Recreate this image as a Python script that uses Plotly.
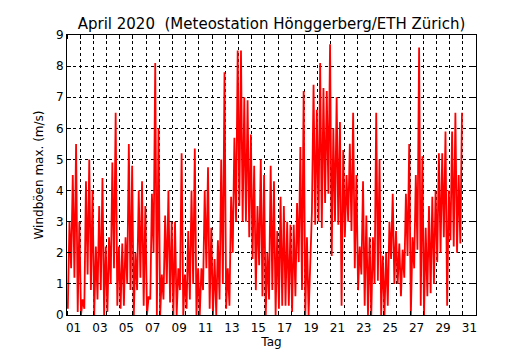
import plotly.graph_objects as go

# Day tick labels (placed at mid-day of odd days)
day_labels = ["01", "03", "05", "07", "09", "11", "13", "15", "17", "19",
              "21", "23", "25", "27", "29", "31"]
y_labels = [str(v) for v in range(10)]

# Estimated 6-hourly minimum / maximum of the max gust (m/s), 1-30 April 2020
# (four quarter-days per row)
gust_low = [
    0.2, 1.5, 1.2, 0.1,   # 01
    0.0, 0.2, 1.3, 0.8,   # 02
    0.0, 0.5, 0.8, 0.0,   # 03
    0.1, 1.0, 1.5, 0.3,   # 04
    0.2, 0.3, 1.0, 0.8,   # 05
    0.0, 0.8, 1.2, 0.3,   # 06
    0.0, 0.5, 2.0, 0.0,   # 07
    0.0, 0.5, 1.0, 0.4,   # 08
    0.0, 0.0, 0.8, 0.0,   # 09
    0.2, 0.5, 1.0, 0.0,   # 10
    0.0, 0.8, 1.5, 0.2,   # 11
    0.0, 0.0, 0.5, 1.0,   # 12
    0.2, 0.3, 2.0, 3.0,   # 13
    3.5, 3.0, 3.0, 2.5,   # 14
    1.8, 0.8, 1.6, 0.6,   # 15
    0.0, 0.5, 0.8, 0.0,   # 16
    0.2, 0.3, 0.3, 0.3,   # 17
    0.1, 0.6, 1.7, 0.8,   # 18
    0.0, 0.0, 3.3, 2.9,   # 19
    3.0, 2.8, 3.6, 3.9,   # 20
    1.9, 3.0, 2.9, 0.3,   # 21
    2.5, 3.0, 2.7, 1.5,   # 22
    0.8, 1.3, 0.3, 0.0,   # 23
    0.0, 1.0, 1.1, 0.0,   # 24
    0.0, 0.3, 1.8, 1.0,   # 25
    1.0, 0.6, 1.2, 1.9,   # 26
    0.0, 1.5, 2.1, 0.3,   # 27
    0.0, 0.6, 0.7, 1.0,   # 28
    1.7, 2.0, 2.5, 0.3,   # 29
    2.4, 2.2, 2.0, 2.3,   # 30
]
gust_high = [
    3.0, 4.5, 5.5, 3.0,   # 01
    0.5, 4.3, 5.0, 4.0,   # 02
    2.2, 3.5, 4.4, 2.2,   # 03
    2.5, 4.9, 6.5, 2.2,   # 04
    2.3, 2.5, 5.5, 4.8,   # 05
    2.0, 4.0, 4.3, 3.5,   # 06
    0.6, 3.9, 8.1, 6.0,   # 07
    1.3, 3.2, 4.0, 3.0,   # 08
    3.0, 1.5, 5.2, 1.3,   # 09
    2.7, 4.0, 5.35, 1.5,  # 10
    1.5, 4.0, 4.75, 2.8,  # 11
    1.8, 2.4, 5.0, 7.8,   # 12
    1.5, 3.8, 5.7, 8.5,   # 13
    8.5, 7.0, 6.9, 5.8,   # 14
    4.8, 3.5, 5.0, 4.5,   # 15
    2.0, 4.8, 4.3, 2.7,   # 16
    3.8, 3.5, 3.0, 2.9,   # 17
    2.9, 3.6, 5.4, 7.2,   # 18
    2.5, 1.7, 7.4, 6.6,   # 19
    8.1, 7.3, 7.2, 8.7,   # 20
    6.0, 7.0, 6.2, 5.3,   # 21
    4.5, 5.5, 6.5, 4.5,   # 22
    2.2, 4.3, 3.2, 2.5,   # 23
    2.5, 6.5, 5.0, 1.9,   # 24
    2.0, 3.0, 3.9, 2.7,   # 25
    2.3, 2.1, 3.9, 5.5,   # 26
    2.5, 4.5, 8.6, 5.1,   # 27
    2.8, 3.5, 3.8, 4.0,   # 28
    5.2, 5.2, 5.9, 4.0,   # 29
    5.9, 6.5, 4.5, 6.5,   # 30
]

# time axis in days since 1 April 00:00; two samples per quarter-day
t, v = [], []
for i, (lo, hi) in enumerate(zip(gust_low, gust_high)):
    start = i * 0.25
    t += [start + 0.0625, start + 0.1875]
    v += [lo, hi]

fig = go.Figure()
fig.add_trace(go.Scatter(x=t, y=v, mode="lines",
                         line=dict(color="#ff0000", width=1.8),
                         hoverinfo="skip", showlegend=False))

font = dict(family="DejaVu Sans, sans-serif", color="black")

# page body adds an 8px offset, so the figure is sized 522x342
fig.update_layout(
    width=522, height=342,
    margin=dict(l=59, r=54, t=27, b=35),
    paper_bgcolor="white", plot_bgcolor="white",
    font=dict(size=12, **font),
    title=dict(text="April 2020  (Meteostation Hönggerberg/ETH Zürich)",
               x=0.5, xref="paper", xanchor="center",
               y=1 - 16 / 342, yref="container", yanchor="middle",
               font=dict(size=15, **font), automargin=False),
    xaxis=dict(
        range=[0, 31], tickmode="array", automargin=False,
        tickvals=[0.5 + 2 * k for k in range(len(day_labels))],
        ticktext=day_labels, ticks="", showgrid=False, zeroline=False,
        showline=True, linecolor="black", linewidth=1, mirror="ticks",
        tickfont=dict(size=12), ticklabelstandoff=2,
        minor=dict(tickmode="array", tickvals=list(range(32)),
                   ticks="inside", ticklen=4, tickcolor="black",
                   showgrid=True, gridcolor="black", griddash="dot",
                   gridwidth=1),
        title=dict(text="Tag", font=dict(size=12), standoff=3),
    ),
    yaxis=dict(
        range=[0, 9], tickmode="array", tickvals=list(range(10)),
        ticktext=y_labels, ticks="inside", ticklen=4, tickcolor="black",
        showgrid=True, gridcolor="black", griddash="dot", gridwidth=1,
        zeroline=False, showline=True, linecolor="black", linewidth=1,
        mirror="ticks", tickfont=dict(size=12), automargin=False,
        title=dict(text="Windböen max. (m/s)", font=dict(size=12), standoff=9),
    ),
)

fig.write_html("out.html")
